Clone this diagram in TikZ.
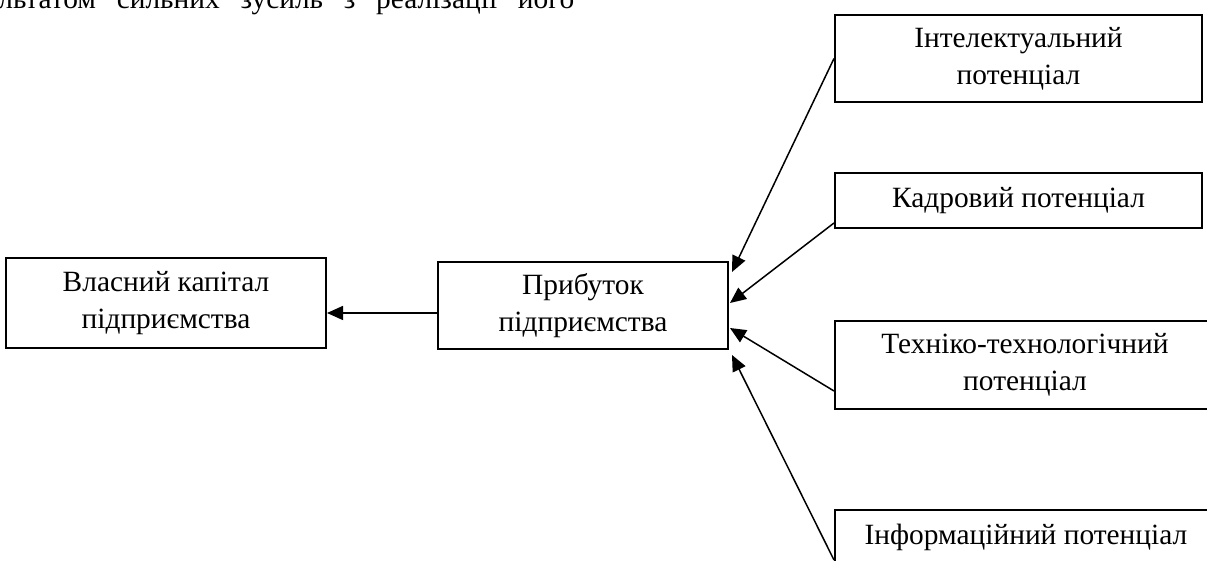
\documentclass[tikz,border=0pt]{standalone}
\usepackage{fontspec}
\setmainfont{Liberation Serif}
\usetikzlibrary{arrows.meta,calc}
\begin{document}
\begin{tikzpicture}[x=0.5pt,y=-0.5pt,
  box/.style={draw, line width=1pt, inner sep=0pt, align=center, font=\fontsize{14.7}{18.5}\selectfont},
  conn/.style={line width=0.75pt, -{Triangle[length=8pt,width=7pt]}}]
\useasboundingbox (0,0) rectangle (1207,561);
\clip (0,0) rectangle (1207,561);
\node[anchor=base west, inner sep=0pt, font=\fontsize{14.7}{18.5}\selectfont] (toptext) at (-2,9)
  {\makebox[288pt][s]{льтатом сильних зусиль з реалізації його}};
\node[box, minimum width=160pt, minimum height=45pt] (vk) at (166,303) {Власний капітал\\підприємства};
\node[box, minimum width=145pt, minimum height=43.5pt] (prib) at (583,305.5) {Прибуток\\підприємства};
\node[box, minimum width=183.5pt, minimum height=43.5pt] (intel) at (1018.5,58.5) {Інтелектуальний\\потенціал};
\node[box, minimum width=183.5pt, minimum height=27.5pt] (kadr) at (1018.5,200.5) {Кадровий потенціал};
\node[box, minimum width=190pt, minimum height=44pt] (tech) at (1025,365) {Техніко-технологічний\\потенціал};
\node[box, minimum width=191pt, minimum height=27.5pt] (info) at (1026,537.5) {Інформаційний потенціал};
\draw[conn] ($(prib.west)+(0,7.5)$) -- ($(vk.east)+(0,10)$);
\draw[conn] (intel.west) -- ($(prib.east)+(3,-33.5)$);
\draw[conn] ($(kadr.south west)+(0,-6)$) -- ($(prib.east)+(1,-2.5)$);
\draw[conn] ($(tech.south west)+(0,-19)$) -- ($(prib.east)+(1,22.5)$);
\draw[conn] ($(info.west)+(0,22.5)$) -- ($(prib.east)+(3,49.5)$);
\end{tikzpicture}
\end{document}
